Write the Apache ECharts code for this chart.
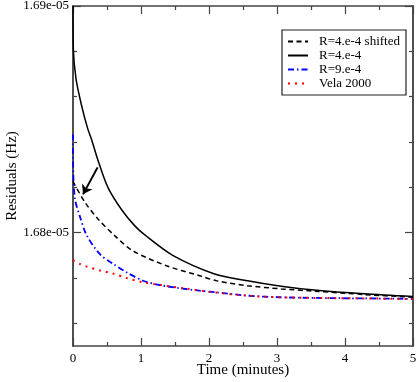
<!DOCTYPE html>
<html>
<head>
<meta charset="utf-8">
<script src="https://cdn.jsdelivr.net/npm/echarts@6/dist/echarts.min.js"></script>
<style>
  html, body { margin: 0; padding: 0; background: #fff; }
  #chart { width: 417px; height: 382px; }
</style>
</head>
<body>
<div id="chart"></div>
<script>
// curves: [time (minutes), residual (Hz)]
const shiftedR4 = [
  [0, 1.68226e-5], [0.176, 1.68134e-5], [0.371, 1.68059e-5], [0.616, 1.67986e-5],
  [0.88, 1.67920e-5], [1.374, 1.67854e-5], [1.862, 1.67810e-5], [2.107, 1.67788e-5],
  [2.566, 1.67766e-5], [3.06, 1.67752e-5], [3.548, 1.67742e-5], [4.282, 1.67727e-5],
  [5, 1.67715e-5]
];
const r4 = [
  [0, 1.6900e-5], [0.005, 1.6881e-5], [0.044, 1.6868e-5], [0.127, 1.6856e-5],
  [0.215, 1.6846e-5], [0.274, 1.6841e-5], [0.367, 1.6832e-5], [0.513, 1.6820e-5],
  [0.718, 1.6810e-5], [0.909, 1.6803e-5], [1.056, 1.6799e-5], [1.466, 1.6790e-5],
  [2.082, 1.67818e-5], [2.566, 1.67788e-5], [3.06, 1.67764e-5], [3.548, 1.67747e-5],
  [4.282, 1.67730e-5], [5, 1.67718e-5]
];
const r9 = [
  [0, 1.68433e-5], [0.003, 1.68279e-5], [0.03, 1.68147e-5], [0.10, 1.68073e-5],
  [0.20, 1.67989e-5], [0.396, 1.67905e-5], [0.591, 1.67862e-5], [0.787, 1.67825e-5],
  [1.031, 1.67788e-5], [1.276, 1.67769e-5], [1.569, 1.67755e-5], [1.862, 1.67744e-5],
  [2.107, 1.67737e-5], [2.566, 1.67722e-5], [3.06, 1.67715e-5], [3.548, 1.67712e-5],
  [4.282, 1.67710e-5], [5, 1.67708e-5]
];
const vela2000 = [
  [0, 1.67879e-5], [0.1, 1.67862e-5], [0.2, 1.67851e-5], [0.396, 1.67833e-5],
  [0.586, 1.67820e-5], [0.787, 1.67800e-5], [1.031, 1.67781e-5], [1.276, 1.67769e-5],
  [1.617, 1.67755e-5], [2.057, 1.67737e-5], [2.566, 1.67722e-5], [3.06, 1.67715e-5],
  [3.548, 1.67712e-5], [4.282, 1.67710e-5], [5, 1.67707e-5]
];
const seriesNames = ['R=4.e-4 shifted', 'R=4.e-4', 'R=9.e-4', 'Vela 2000'];

// y axis ticks and labels
const yMin = 1.675e-5, yMax = 1.69e-5;
const yMajor = [1.68e-5, 1.69e-5];
const yMinor = [1.676e-5, 1.678e-5, 1.682e-5, 1.684e-5, 1.686e-5, 1.688e-5];

// arrow pointing at the start of the shifted curve
const arrowFrom = [0.362, 1.68288e-5];
const arrowTo = [0.147, 1.68169e-5];

const font = 'Liberation Serif';
const axisColor = '#444';

const fmtY = v => v.toExponential(2).replace(/e-(\d)$/, 'e-0$1');

function yAxisCfg(position, ticks, len, labels) {
  return {
    type: 'value', position, min: yMin, max: yMax,
    axisLine: { show: true, lineStyle: { color: axisColor, width: 1.5 } },
    axisTick: { show: true, inside: true, length: len, customValues: ticks,
      lineStyle: { color: axisColor, width: 1.2 } },
    axisLabel: labels
      ? { show: true, customValues: yMajor, formatter: fmtY, color: '#000',
          fontFamily: font, fontSize: 13, margin: 4 }
      : { show: false },
    splitLine: { show: false },
    name: labels ? 'Residuals (Hz)' : '',
    nameLocation: 'middle', nameGap: 53, nameMoveOverlap: false,
    nameTextStyle: { fontFamily: font, fontSize: 15, color: '#000' }
  };
}

function xAxisCfg(position, labels) {
  return {
    type: 'value', position, min: 0, max: 5, interval: 1,
    axisLine: { show: true, lineStyle: { color: axisColor, width: 1.5 } },
    axisTick: { show: true, inside: true, length: 8, lineStyle: { color: axisColor, width: 1.2 } },
    minorTick: { show: true, splitNumber: 2, length: 4, lineStyle: { color: axisColor, width: 1.2 } },
    axisLabel: labels
      ? { show: true, color: '#000', fontFamily: font, fontSize: 13, margin: 6 }
      : { show: false },
    splitLine: { show: false },
    name: labels ? 'Time (minutes)' : '',
    nameLocation: 'middle', nameGap: 17, nameMoveOverlap: false,
    nameTextStyle: { fontFamily: font, fontSize: 15, color: '#000' }
  };
}

const chart = echarts.init(document.getElementById('chart'));

const lineBase = {
  type: 'line', showSymbol: false, symbol: 'none',
  smooth: 0.3, animation: false,
  xAxisIndex: 0, yAxisIndex: 0
};

chart.setOption({
  backgroundColor: '#fff',
  animation: false,
  grid: { left: 73, right: 4, top: 6, bottom: 36, containLabel: false, outerBoundsMode: 'none' },
  xAxis: [xAxisCfg('bottom', true), xAxisCfg('top', false)],
  yAxis: [
    yAxisCfg('left', yMajor, 8, true),
    yAxisCfg('left', yMinor, 4, false),
    yAxisCfg('right', yMajor, 8, false),
    yAxisCfg('right', yMinor, 4, false)
  ],
  legend: {
    orient: 'vertical', left: 282, top: 30,
    padding: [5, 6, 5, 5], itemGap: 1,
    itemWidth: 20, itemHeight: 13,
    backgroundColor: '#fff', borderColor: '#222', borderWidth: 1.2,
    itemStyle: { opacity: 0 },
    textStyle: { fontFamily: font, fontSize: 13, color: '#000', padding: [0, 0, 0, 6] },
    data: seriesNames
  },
  series: [
    Object.assign({}, lineBase, {
      name: seriesNames[0], data: shiftedR4, z: 3,
      lineStyle: { color: '#000', width: 1.5, type: [5, 3.5] },
      itemStyle: { color: '#000' },
      markLine: {
        silent: true, animation: false,
        symbol: ['none', 'arrow'], symbolSize: 9,
        label: { show: false },
        lineStyle: { color: '#000', width: 2, type: 'solid' },
        data: [[
          { coord: arrowFrom },
          { coord: arrowTo }
        ]]
      }
    }),
    Object.assign({}, lineBase, {
      name: seriesNames[1], data: r4, z: 3,
      lineStyle: { color: '#000', width: 1.5, type: 'solid' },
      itemStyle: { color: '#000' }
    }),
    Object.assign({}, lineBase, {
      name: seriesNames[2], data: r9, z: 4,
      lineStyle: { color: '#0000ff', width: 1.8, type: [6, 3, 1.5, 3] },
      itemStyle: { color: '#0000ff' }
    }),
    Object.assign({}, lineBase, {
      name: seriesNames[3], data: vela2000, z: 5,
      lineStyle: { color: '#ff0000', width: 2, type: [2, 5] },
      itemStyle: { color: '#ff0000' }
    })
  ]
});
</script>
</body>
</html>
